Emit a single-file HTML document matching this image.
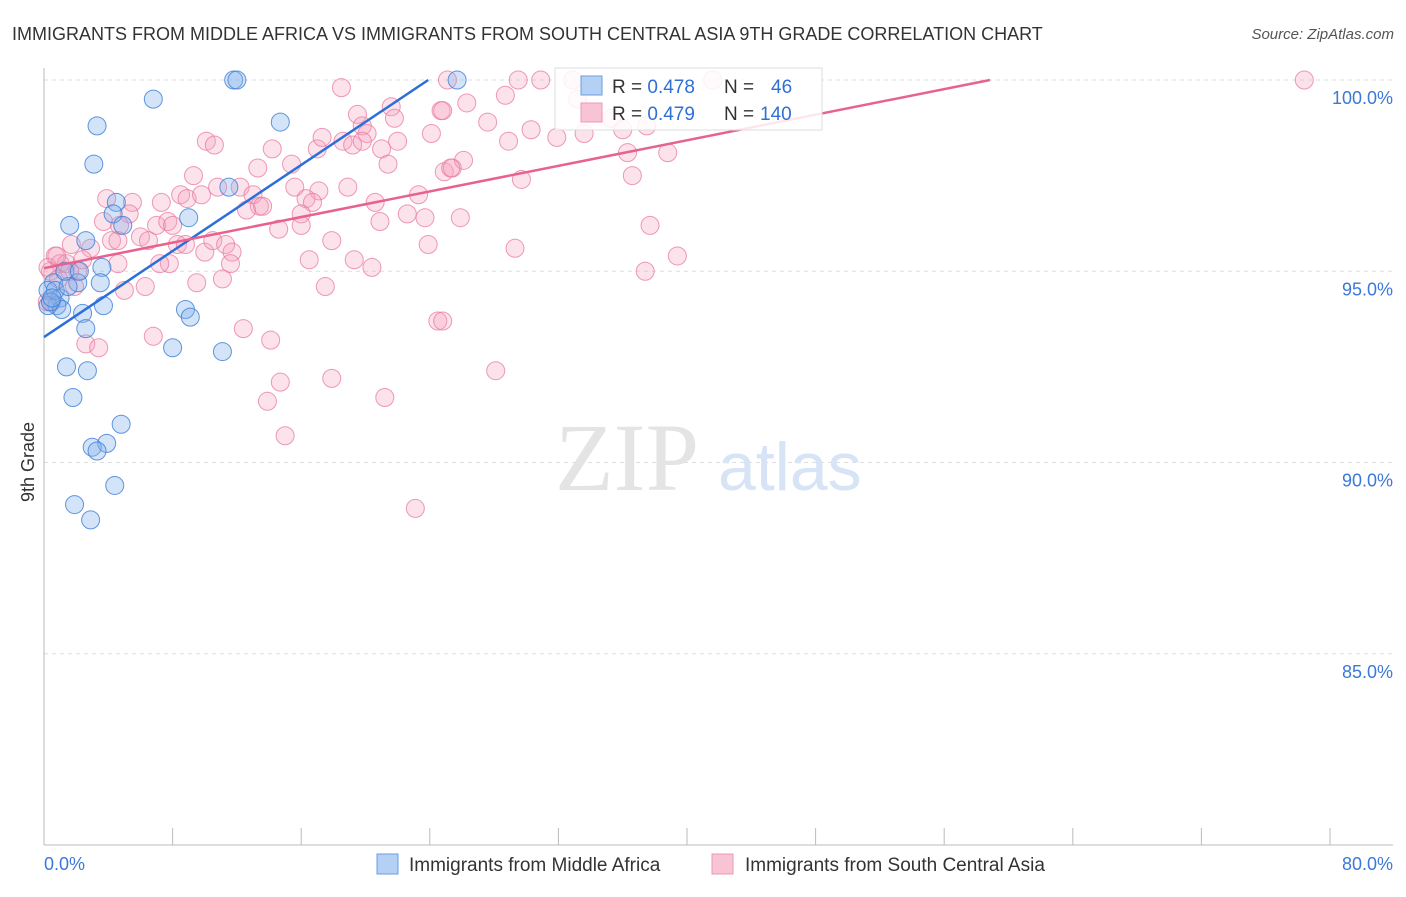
<!DOCTYPE html>
<html><head><meta charset="utf-8"><style>
body{margin:0;background:#fff;font-family:"Liberation Sans",sans-serif}
#wrap{position:relative;width:1406px;height:892px}
</style></head><body>
<div id="wrap">
<svg id="svg" width="1406" height="892" xmlns="http://www.w3.org/2000/svg">
<text x="12" y="40" font-size="18" fill="#333">IMMIGRANTS FROM MIDDLE AFRICA VS IMMIGRANTS FROM SOUTH CENTRAL ASIA 9TH GRADE CORRELATION CHART</text>
<text x="1394" y="39" font-size="15" fill="#555" text-anchor="end" font-style="italic">Source: ZipAtlas.com</text>
<text x="34" y="462" font-size="18" fill="#333" text-anchor="middle" transform="rotate(-90 34 462)">9th Grade</text>
<g id="grid"></g>
<text x="555" y="490" font-size="96" fill="#e4e4e4" font-family="Liberation Serif,serif">ZIP</text>
<text x="718" y="490" font-size="68" fill="#d6e4f5">atlas</text>
<g id="pts"></g>
<g id="lines"></g>
<g>
<rect x="555" y="68" width="267" height="62" fill="#fff" fill-opacity="0.85" stroke="#ddd"/>
<rect x="581" y="76" width="21" height="19" fill="#b5d0f5" stroke="#6a9de0"/>
<rect x="581" y="103" width="21" height="19" fill="#f8c3d3" stroke="#ec9ab5"/>
<text x="612" y="93" font-size="19" fill="#333">R = <tspan fill="#2f6fd6">0.478</tspan><tspan x="724">N =</tspan><tspan x="771" fill="#2f6fd6">46</tspan></text>
<text x="612" y="120" font-size="19" fill="#333">R = <tspan fill="#2f6fd6">0.479</tspan><tspan x="724">N =</tspan><tspan x="760" fill="#2f6fd6">140</tspan></text>
</g>
<g>
<rect x="377" y="854" width="21" height="20" fill="#b5d0f5" stroke="#6a9de0"/>
<text x="409" y="871" font-size="19" fill="#333">Immigrants from Middle Africa</text>
<rect x="712" y="854" width="21" height="20" fill="#f8c3d3" stroke="#ec9ab5"/>
<text x="745" y="871" font-size="19" fill="#333">Immigrants from South Central Asia</text>
</g>
</svg>
</div>
<script>
const yTicks=[100,95,90,85];
const yTickLabels=["100.0%","95.0%","90.0%","85.0%"];
const xTicks=[0,8,16,24,32,40,48,56,64,72,80];
const xEndLabels=["0.0%","80.0%"];
const blueX=[11.8,12.0,25.7,6.8,3.3,14.7,3.1,11.5,4.5,1.6,9.0,4.3,2.6,4.9,3.6,3.5,2.1,0.6,0.25,1.0,0.8,0.25,3.7,1.1,2.4,8.8,9.1,2.6,8.0,11.1,1.4,2.7,1.8,4.8,3.9,3.0,3.3,4.4,1.9,2.9,0.7,1.5,0.4,1.3,2.2,0.5];
const blueY=[100,100,100,99.5,98.8,98.9,97.8,97.2,96.8,96.2,96.4,96.5,95.8,96.2,95.1,94.7,94.7,94.7,94.5,94.3,94.1,94.1,94.1,94.0,93.9,94.0,93.8,93.5,93.0,92.9,92.5,92.4,91.7,91.0,90.5,90.4,90.3,89.4,88.9,88.5,94.5,94.6,94.2,95.0,95.0,94.3];
const pinkX=[18.5,10.1,10.6,14.2,17.0,17.3,19.5,19.8,20.1,18.6,19.2,19.8,21.0,22.0,21.4,21.6,21.8,24.7,24.1,24.9,25.4,25.1,13.3,15.4,9.3,3.9,5.5,7.3,8.5,8.9,9.8,10.8,12.2,13.0,13.4,12.6,13.6,15.6,17.1,18.9,16.3,16.7,16.0,16.0,14.6,20.6,20.9,22.6,23.7,23.3,23.9,17.9,16.5,19.3,20.4,17.5,5.3,3.7,4.7,1.7,2.9,4.2,4.6,6.0,6.5,7.0,7.7,8.0,8.3,8.8,10.0,10.5,11.3,11.7,11.6,11.1,9.5,7.8,7.2,4.6,6.3,5.0,0.7,1.0,1.4,2.1,0.4,2.4,0.5,6.8,2.6,3.4,12.4,14.1,14.7,17.9,13.9,21.2,24.5,15.0,23.1,26.3,28.7,29.5,30.9,32.9,41.6,27.6,28.9,30.3,31.9,33.6,36.0,37.5,36.3,38.8,36.6,29.7,26.1,25.3,24.8,25.9,37.7,29.3,39.4,37.4,24.8,28.1,33.2,35.3,78.4,0.25,0.9,1.6,0.2,1.9,0.8];
const pinkY=[99.8,98.4,98.3,98.2,98.2,98.5,99.1,98.8,98.6,98.4,98.3,98.4,98.2,98.4,97.8,99.3,99.0,99.2,98.6,97.6,97.7,100,97.7,97.8,97.5,96.9,96.8,96.8,97.0,96.9,97.0,97.2,97.2,97.0,96.7,96.6,96.7,97.2,97.1,97.2,96.9,96.8,96.5,96.2,96.1,96.8,96.3,96.5,96.4,97.0,95.7,95.8,95.3,95.3,95.1,94.6,96.5,96.3,96.2,95.7,95.6,95.8,95.8,95.9,95.8,96.2,96.3,96.2,95.7,95.7,95.5,95.8,95.7,95.5,95.2,94.8,94.7,95.2,95.2,95.2,94.6,94.5,95.4,95.2,95.2,95.0,95.0,95.3,94.2,93.3,93.1,93.0,93.5,93.2,92.1,92.2,91.6,91.7,93.7,90.7,88.8,99.4,99.6,100,100,100,100,98.9,98.4,98.7,98.5,98.6,98.7,98.8,98.1,98.1,97.5,97.4,97.9,97.7,99.2,96.4,96.2,95.6,95.4,95.0,93.7,92.4,99.5,99.0,100,95.1,94.8,95.0,94.2,94.6,95.4];
const blueLineX=[0,23.9];
const blueLineY=[93.28,100];
const pinkLineX=[0,58.85];
const pinkLineY=[95.08,100];

const NS="http://www.w3.org/2000/svg";
const X0=44,XS=16.075,Y100=80,YS=38.25;
function sx(v){return X0+v*XS;}
function sy(v){return Y100+(100-v)*YS;}
function mk(tag,attrs,parent){const e=document.createElementNS(NS,tag);for(const k in attrs)e.setAttribute(k,attrs[k]);parent.appendChild(e);return e;}
const grid=document.getElementById('grid');
yTicks.forEach((t,i)=>{
  const l=mk('line',{x1:44,x2:1393,y1:sy(t),y2:sy(t),stroke:'#ddd','stroke-dasharray':'4,4'},grid);
  
  
  const tx=mk('text',{x:1393,y:sy(t)+24,'font-size':18,fill:'#3b78d8','text-anchor':'end'},grid);
  tx.textContent=yTickLabels[i];
  
  
});
const ax=mk('line',{x1:44,x2:44,y1:68,y2:845,stroke:'#bbb'},grid);


const bx=mk('line',{x1:44,x2:1393,y1:845,y2:845,stroke:'#bbb'},grid);


xTicks.forEach(t=>{
  const l=mk('line',{x1:sx(t),x2:sx(t),y1:828,y2:845,stroke:'#bbb'},grid);
  
  
});
const xl0=mk('text',{x:44,y:870,'font-size':18,fill:'#3b78d8'},grid);
xl0.textContent=xEndLabels[0];


const xl1=mk('text',{x:1393,y:870,'font-size':18,fill:'#3b78d8','text-anchor':'end'},grid);
xl1.textContent=xEndLabels[1];



const pts=document.getElementById('pts');
pinkX.forEach((v,i)=>{
  const c=mk('circle',{cx:sx(v),cy:sy(pinkY[i]),r:9,fill:'rgba(244,160,190,0.3)',stroke:'rgba(232,120,160,0.75)','stroke-width':1},pts);
  
  
});
blueX.forEach((v,i)=>{
  const c=mk('circle',{cx:sx(v),cy:sy(blueY[i]),r:9,fill:'rgba(130,175,235,0.35)',stroke:'rgba(60,125,215,0.8)','stroke-width':1},pts);
  
  
});
const lines=document.getElementById('lines');
const bl=mk('line',{x1:sx(blueLineX[0]),y1:sy(blueLineY[0]),x2:sx(blueLineX[1]),y2:sy(blueLineY[1]),stroke:'#2d6fd8','stroke-width':2.5},lines);


const pl=mk('line',{x1:sx(pinkLineX[0]),y1:sy(pinkLineY[0]),x2:sx(pinkLineX[1]),y2:sy(pinkLineY[1]),stroke:'#e8628e','stroke-width':2.5},lines);


</script>
</body></html>
